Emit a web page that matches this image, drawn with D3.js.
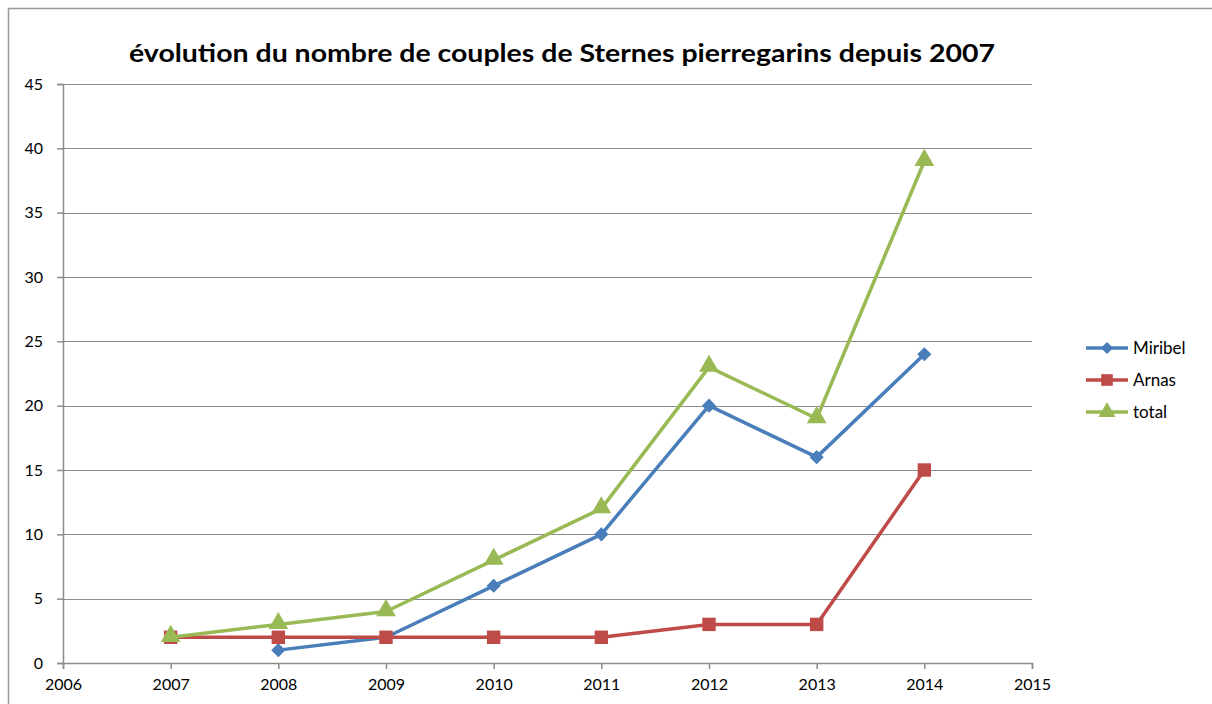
<!DOCTYPE html>
<html>
<head>
<meta charset="utf-8">
<script src="https://cdn.jsdelivr.net/npm/d3@7"></script>
<style>
  body { margin: 0; background: #fff; }
  svg { display: block; font-family: Lato, "Open Sans", sans-serif; }
</style>
</head>
<body>
<div id="chart"></div>
<script>
const years = [2007, 2008, 2009, 2010, 2011, 2012, 2013, 2014];
const miribel = [null, 1, 2, 6, 10, 20, 16, 24];
const arnas = [2, 2, 2, 2, 2, 3, 3, 15];
const total = [2, 3, 4, 8, 12, 23, 19, 39];
const xTicks = [2006, 2007, 2008, 2009, 2010, 2011, 2012, 2013, 2014, 2015];
const yTicks = [0, 5, 10, 15, 20, 25, 30, 35, 40, 45];

const series = [
  { name: "Miribel", values: miribel, color: "#4a7ebb", symbol: d3.symbolSquare, size: 100, rotate: 45 },
  { name: "Arnas", values: arnas, color: "#be4b48", symbol: d3.symbolSquare, size: 180, rotate: 0 },
  { name: "total", values: total, color: "#98b954", symbol: d3.symbolTriangle, size: 170, rotate: 0 }
];

const width = 1212, height = 704;
const svg = d3.select("#chart").append("svg")
  .attr("width", width)
  .attr("height", height);

// outer frame
svg.append("rect")
  .attr("x", 8.5).attr("y", 8.5)
  .attr("width", width + 20).attr("height", height + 20)
  .attr("fill", "none")
  .attr("stroke", "#999")
  .attr("stroke-width", 1.5);

const x = d3.scaleLinear([2006, 2015], [63, 1032]);
const y = d3.scaleLinear([0, 45], [663, 84]);

// gridlines
svg.append("g")
  .selectAll("line")
  .data(yTicks.filter(d => d > 0))
  .join("line")
  .attr("x1", x(2006)).attr("x2", x(2015))
  .attr("y1", d => Math.round(y(d)) + 0.5)
  .attr("y2", d => Math.round(y(d)) + 0.5)
  .attr("stroke", "#8c8c8c")
  .attr("stroke-width", 1);

// axes
const yAxis = svg.append("g")
  .attr("transform", `translate(${x(2006)},0)`)
  .call(d3.axisLeft(y).tickValues(yTicks).tickSize(6).tickPadding(14));
const xAxis = svg.append("g")
  .attr("transform", `translate(0,${y(0)})`)
  .call(d3.axisBottom(x).tickValues(xTicks).tickFormat(d3.format("d")).tickSize(6).tickPadding(10));

[yAxis, xAxis].forEach(a => {
  a.select(".domain").attr("stroke", "#8c8c8c").attr("stroke-width", 1.5);
  a.selectAll(".tick line").attr("stroke", "#8c8c8c").attr("stroke-width", 1.5);
  a.selectAll("text").attr("fill", "#000").style("font-size", "16px")
    .style("font-family", "Lato, 'Open Sans', sans-serif");
});

// lines + markers
const line = d3.line()
  .defined(d => d.v !== null)
  .x(d => x(d.year))
  .y(d => y(d.v));

series.forEach(s => {
  const pts = years.map((yr, i) => ({ year: yr, v: s.values[i] }));
  svg.append("path")
    .datum(pts)
    .attr("d", line)
    .attr("fill", "none")
    .attr("stroke", s.color)
    .attr("stroke-width", 3.5)
    .attr("stroke-linejoin", "round");
  svg.append("g")
    .selectAll("path")
    .data(pts.filter(d => d.v !== null))
    .join("path")
    .attr("d", d3.symbol(s.symbol, s.size))
    .attr("transform", d => `translate(${x(d.year)},${y(d.v) + (s.symbol === d3.symbolTriangle ? -1 : 0)}) rotate(${s.rotate})`)
    .attr("fill", s.color);
});

// title
svg.append("text")
  .attr("x", 562).attr("y", 62)
  .attr("text-anchor", "middle")
  .attr("textLength", 866)
  .attr("lengthAdjust", "spacingAndGlyphs")
  .style("font-size", "25px")
  .style("font-weight", "bold")
  .text("évolution du nombre de couples de Sternes pierregarins depuis 2007");

// legend
const legend = svg.append("g")
  .selectAll("g")
  .data(series)
  .join("g")
  .attr("transform", (d, i) => `translate(1086,${348 + i * 32})`);
legend.append("line")
  .attr("x1", 0).attr("x2", 42)
  .attr("stroke", d => d.color)
  .attr("stroke-width", 3.5);
legend.append("path")
  .attr("d", d => d3.symbol(d.symbol, d.size * 0.75)())
  .attr("transform", d => `translate(21,0) rotate(${d.rotate})`)
  .attr("fill", d => d.color);
legend.append("text")
  .attr("x", 47).attr("dy", "0.35em")
  .style("font-size", "17px")
  .text(d => d.name);
</script>
</body>
</html>
